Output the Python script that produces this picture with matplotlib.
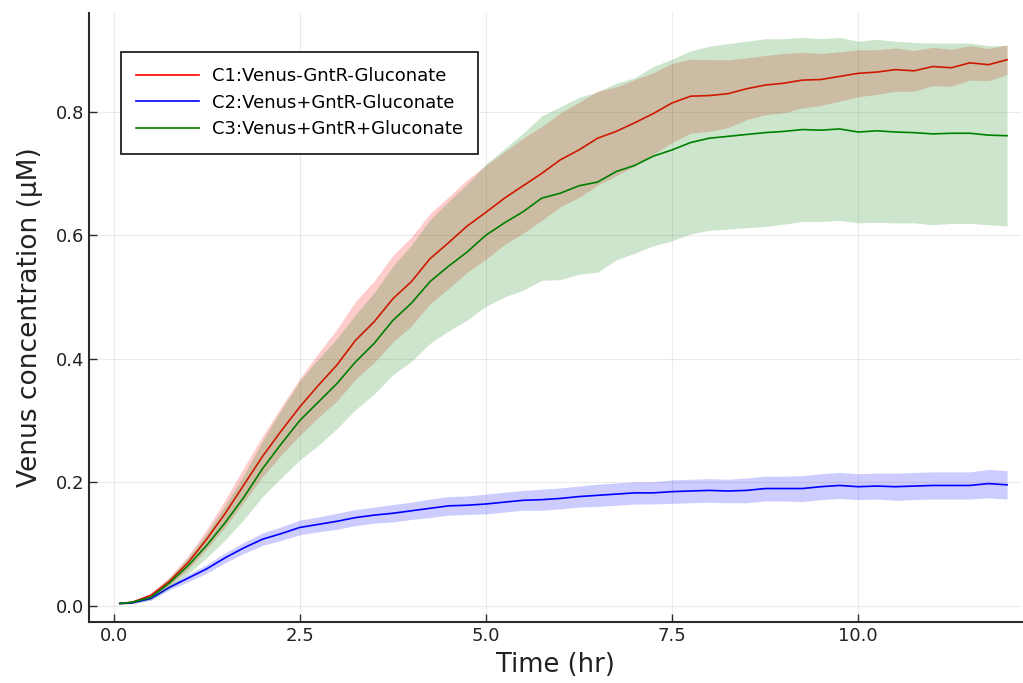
import matplotlib
matplotlib.use("Agg")
import matplotlib.pyplot as plt
import numpy as np

# Time (hr)
time_hr = [0.083, 0.25, 0.5, 0.75, 1.0, 1.25, 1.5, 1.75, 2.0, 2.25, 2.5, 2.75,
           3.0, 3.25, 3.5, 3.75, 4.0, 4.25, 4.5, 4.75, 5.0, 5.25, 5.5, 5.75,
           6.0, 6.25, 6.5, 6.75, 7.0, 7.25, 7.5, 7.75, 8.0, 8.25, 8.5, 8.75,
           9.0, 9.25, 9.5, 9.75, 10.0, 10.25, 10.5, 10.75, 11.0, 11.25, 11.5, 11.75, 12.0]

# C1: Venus-GntR-Gluconate
c1_mean = [0.004, 0.006, 0.017, 0.040, 0.070, 0.108, 0.150, 0.196, 0.242, 0.283, 0.322, 0.357,
           0.390, 0.430, 0.460, 0.497, 0.525, 0.562, 0.588, 0.615, 0.637, 0.660, 0.680, 0.700,
           0.722, 0.738, 0.757, 0.768, 0.782, 0.797, 0.814, 0.825, 0.826, 0.829, 0.837, 0.843,
           0.846, 0.851, 0.852, 0.857, 0.862, 0.864, 0.868, 0.866, 0.873, 0.871, 0.879, 0.876, 0.884]
c1_std = [0.001, 0.002, 0.004, 0.007, 0.011, 0.016, 0.022, 0.028, 0.033, 0.039, 0.046, 0.052,
          0.058, 0.063, 0.066, 0.070, 0.072, 0.073, 0.074, 0.075, 0.076, 0.075, 0.077, 0.076,
          0.076, 0.077, 0.076, 0.072, 0.070, 0.066, 0.064, 0.060, 0.058, 0.055, 0.050, 0.048,
          0.048, 0.045, 0.042, 0.040, 0.038, 0.036, 0.035, 0.033, 0.031, 0.030, 0.028, 0.026, 0.024]

# C2: Venus+GntR-Gluconate
c2_mean = [0.004, 0.005, 0.012, 0.030, 0.045, 0.060, 0.078, 0.094, 0.108, 0.117, 0.127, 0.132,
           0.137, 0.143, 0.147, 0.150, 0.154, 0.158, 0.162, 0.163, 0.165, 0.168, 0.171, 0.172,
           0.174, 0.177, 0.179, 0.181, 0.183, 0.183, 0.185, 0.186, 0.187, 0.186, 0.187, 0.190,
           0.190, 0.190, 0.193, 0.195, 0.193, 0.194, 0.193, 0.194, 0.195, 0.195, 0.195, 0.198, 0.196]
c2_std = [0.001, 0.001, 0.003, 0.004, 0.006, 0.007, 0.008, 0.009, 0.010, 0.011, 0.012, 0.012,
          0.013, 0.013, 0.013, 0.014, 0.014, 0.015, 0.015, 0.015, 0.016, 0.016, 0.016, 0.017,
          0.017, 0.017, 0.018, 0.018, 0.018, 0.018, 0.019, 0.019, 0.019, 0.019, 0.020, 0.020,
          0.020, 0.021, 0.021, 0.021, 0.021, 0.021, 0.022, 0.022, 0.022, 0.022, 0.022, 0.023, 0.023]

# C3: Venus+GntR+Gluconate
c3_mean = [0.004, 0.006, 0.014, 0.037, 0.065, 0.098, 0.135, 0.176, 0.222, 0.262, 0.300, 0.330,
           0.360, 0.395, 0.425, 0.462, 0.490, 0.525, 0.550, 0.573, 0.600, 0.620, 0.638, 0.660,
           0.668, 0.680, 0.686, 0.703, 0.713, 0.728, 0.738, 0.750, 0.757, 0.760, 0.763, 0.766,
           0.768, 0.771, 0.770, 0.772, 0.767, 0.769, 0.767, 0.766, 0.764, 0.765, 0.765, 0.762, 0.761]
c3_std = [0.001, 0.002, 0.004, 0.008, 0.013, 0.020, 0.028, 0.036, 0.045, 0.055, 0.064, 0.070,
          0.073, 0.077, 0.082, 0.088, 0.094, 0.100, 0.105, 0.110, 0.115, 0.120, 0.127, 0.133,
          0.140, 0.143, 0.146, 0.143, 0.142, 0.145, 0.147, 0.148, 0.149, 0.150, 0.151, 0.152,
          0.150, 0.149, 0.148, 0.148, 0.147, 0.148, 0.147, 0.146, 0.147, 0.146, 0.146, 0.145, 0.146]

labels = ["C1:Venus-GntR-Gluconate", "C2:Venus+GntR-Gluconate", "C3:Venus+GntR+Gluconate"]
colors = ["#ff0000", "#0000ff", "#008000"]

x_ticks = [0.0, 2.5, 5.0, 7.5, 10.0]
y_ticks = [0.0, 0.2, 0.4, 0.6, 0.8]

plt.rcParams['font.family'] = ['DejaVu Sans']

fig = plt.figure(figsize=(10.23, 6.83), dpi=100)
ax = fig.add_axes([0.087, 0.0893, 0.912, 0.892])

t = np.array(time_hr)
z = 1
for mean, std, col, lab in zip([c1_mean, c2_mean, c3_mean], [c1_std, c2_std, c3_std], colors, labels):
    m = np.array(mean)
    s = np.array(std)
    ax.fill_between(t, m - s, m + s, color=col, alpha=0.2, linewidth=0, zorder=z)
    ax.plot(t, m, color=col, lw=1.2, label=lab, zorder=z + 1)
    z += 2

ax.set_xlim(-0.33, 12.2)
ax.set_ylim(-0.026, 0.96)
ax.set_xticks(x_ticks)
ax.set_xticklabels([f"{v:.1f}" for v in x_ticks])
ax.set_yticks(y_ticks)
ax.set_yticklabels([f"{v:.1f}" for v in y_ticks])

ax.grid(True, color='black', alpha=0.08, lw=0.8)
ax.set_axisbelow(True)
for side in ['top', 'right']:
    ax.spines[side].set_visible(False)
for side in ['left', 'bottom']:
    ax.spines[side].set_linewidth(1.5)
    ax.spines[side].set_color('#2a2a2a')
ax.tick_params(direction='in', length=6, width=1.0, labelsize=13, colors='#2a2a2a', labelcolor='#222222')

ax.set_xlabel("Time (hr)", fontsize=18.5, color='#222222', labelpad=5)
ax.set_ylabel("Venus concentration (μM)", fontsize=19, color='#222222', labelpad=9)

leg = ax.legend(loc='upper left', bbox_to_anchor=(0.034, 0.936), borderaxespad=0, fontsize=13,
                frameon=True, fancybox=False, framealpha=1, edgecolor='#222222',
                handlelength=3.5, handletextpad=0.7, labelspacing=0.48, borderpad=0.85)
leg.get_frame().set_linewidth(1.3)

fig.savefig("out.png", dpi=100)
